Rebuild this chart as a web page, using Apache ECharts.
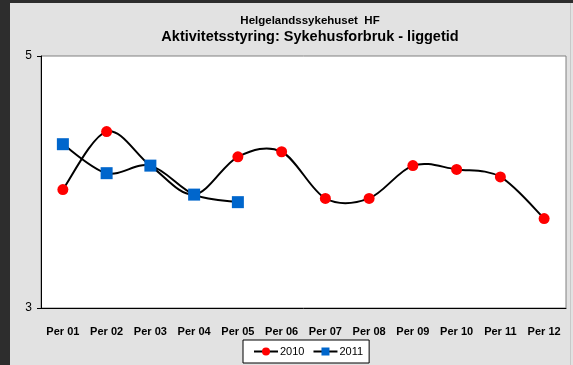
<!DOCTYPE html>
<html>
<head>
<meta charset="utf-8">
<script src="https://cdn.jsdelivr.net/npm/echarts@6/dist/echarts.min.js"></script>
<style>
  html, body { margin: 0; padding: 0; background: #2d2d2d; }
  #chart { width: 573px; height: 365px; }
</style>
</head>
<body>
<div id="chart"></div>
<script>
// Periods and average length of stay per period
const periods = ['Per 01', 'Per 02', 'Per 03', 'Per 04', 'Per 05', 'Per 06',
                 'Per 07', 'Per 08', 'Per 09', 'Per 10', 'Per 11', 'Per 12'];
const values2010 = [3.94, 4.40, 4.13, 3.90, 4.20, 4.24, 3.87, 3.87, 4.13, 4.10, 4.04, 3.71];
const values2011 = [4.30, 4.07, 4.13, 3.90, 3.84];
const yTicks = [3, 5];

const chart = echarts.init(document.getElementById('chart'));
const font = 'Liberation Sans, Arial, sans-serif';

// Cardinal-spline segment between point i and i+1 (tangent = neighbour difference / 6),
// each point projected through the chart's own axes.
function smoothSegment(values) {
  return function (params, api) {
    const i = params.dataIndex;
    if (i >= values.length - 1) return null;
    const pt = k => api.coord([Math.max(0, Math.min(values.length - 1, k)),
                               values[Math.max(0, Math.min(values.length - 1, k))]]);
    const p0 = pt(i - 1), p1 = pt(i), p2 = pt(i + 1), p3 = pt(i + 2);
    const c1 = [p1[0] + (p2[0] - p0[0]) / 6, p1[1] + (p2[1] - p0[1]) / 6];
    const c2 = [p2[0] - (p3[0] - p1[0]) / 6, p2[1] - (p3[1] - p1[1]) / 6];
    return {
      type: 'bezierCurve',
      shape: { x1: p1[0], y1: p1[1], x2: p2[0], y2: p2[1],
               cpx1: c1[0], cpy1: c1[1], cpx2: c2[0], cpy2: c2[1] },
      style: { stroke: '#000', lineWidth: 2, fill: null }
    };
  };
}

function curveSeries(name, values) {
  return {
    name: name + ' curve', type: 'custom', z: 1, silent: true,
    data: values.map((v, i) => [i, v]),
    encode: { x: 0, y: 1 },
    renderItem: smoothSegment(values)
  };
}

chart.setOption({
  animation: false,
  backgroundColor: '#2d2d2d',
  graphic: [
    { type: 'rect', z: -10, silent: true,
      shape: { x: 10, y: 3, width: 563, height: 362 },
      style: { fill: '#e2e2e2' } },
    { type: 'rect', z: -9, silent: true,
      shape: { x: 570, y: 3, width: 1, height: 362 },
      style: { fill: '#c8c8c8' } }
  ],
  title: [
    { text: 'Helgelandssykehuset  HF', left: 305, top: 10, textAlign: 'center',
      textStyle: { fontFamily: font, fontSize: 11.5, fontWeight: 'bold', color: '#000' } },
    { text: 'Aktivitetsstyring: Sykehusforbruk - liggetid', left: 305, top: 24, textAlign: 'center',
      textStyle: { fontFamily: font, fontSize: 14.5, fontWeight: 'bold', color: '#000' } }
  ],
  legend: {
    left: 243, top: 340, width: 125, height: 24,
    itemGap: 8, itemWidth: 24, itemHeight: 10,
    padding: [6, 6, 6, 10],
    backgroundColor: '#ffffff', borderColor: '#000', borderWidth: 1,
    textStyle: { fontFamily: font, fontSize: 11, color: '#000', padding: [0, 0, 0, -3] },
    data: [
      { name: '2010', lineStyle: { color: '#000', width: 2, opacity: 1 } },
      { name: '2011', lineStyle: { color: '#000', width: 2, opacity: 1 } }
    ]
  },
  grid: {
    left: 41, right: 7, top: 56, bottom: 57,
    show: true, backgroundColor: '#ffffff', borderColor: '#808080', borderWidth: 1
  },
  xAxis: {
    type: 'category', data: periods, boundaryGap: true,
    axisLine: { lineStyle: { color: '#000', width: 1 } },
    axisTick: { show: false },
    axisLabel: { fontFamily: font, fontSize: 11, fontWeight: 'bold', color: '#000', margin: 18 }
  },
  yAxis: {
    type: 'value', min: yTicks[0], max: yTicks[1], interval: yTicks[1] - yTicks[0],
    axisLine: { show: true, lineStyle: { color: '#000', width: 1 } },
    axisTick: { show: true, length: 4, lineStyle: { color: '#000' } },
    axisLabel: { fontFamily: font, fontSize: 12, color: '#000', margin: 9 },
    splitLine: { show: false }
  },
  series: [
    curveSeries('2010', values2010),
    curveSeries('2011', values2011),
    { name: '2010', type: 'line', data: values2010, z: 3,
      symbol: 'circle', symbolSize: 11,
      itemStyle: { color: '#ff0000' },
      lineStyle: { color: '#000', width: 2, opacity: 0 } },
    { name: '2011', type: 'line', data: values2011, z: 4,
      symbol: 'rect', symbolSize: 12,
      itemStyle: { color: '#0066cc' },
      lineStyle: { color: '#000', width: 2, opacity: 0 } }
  ]
});
</script>
</body>
</html>
